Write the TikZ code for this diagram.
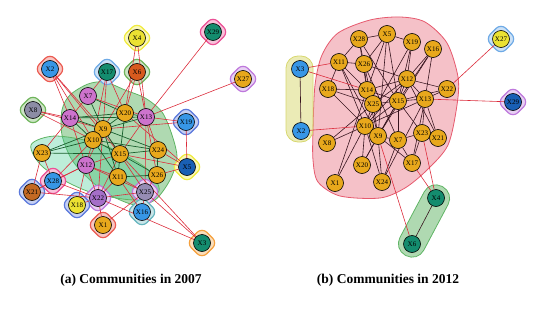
\documentclass[tikz,border=0pt]{standalone}
\usepackage{fontspec}
\setmainfont{Liberation Serif}
\usepackage{tikz}
\usepackage{xcolor}
\usetikzlibrary{positioning}
\definecolor{vorange}{RGB}{232,168,28}
\definecolor{vviolet}{RGB}{205,115,205}
\definecolor{vpurple}{RGB}{165,110,200}
\definecolor{vblue}{RGB}{55,150,230}
\definecolor{vdblue}{RGB}{25,95,180}
\definecolor{vteal}{RGB}{20,140,110}
\definecolor{vrust}{RGB}{215,90,30}
\definecolor{vbrown}{RGB}{195,105,35}
\definecolor{vgray}{RGB}{140,140,165}
\definecolor{vmauve}{RGB}{150,140,180}
\definecolor{vyellow}{RGB}{235,225,50}
\definecolor{hyellow}{RGB}{240,235,60}
\definecolor{hpink}{RGB}{235,80,150}
\definecolor{hviolet}{RGB}{190,120,220}
\definecolor{hred}{RGB}{235,90,80}
\definecolor{hsky}{RGB}{110,170,230}
\definecolor{hgreen}{RGB}{110,180,90}
\definecolor{hblue}{RGB}{90,120,220}
\definecolor{horange}{RGB}{245,160,60}
\definecolor{hteal}{RGB}{100,180,190}
\definecolor{linkred}{RGB}{220,45,60}
\definecolor{linkgreen}{RGB}{25,95,45}
\definecolor{linkdark}{RGB}{55,20,30}
\definecolor{commgreen}{RGB}{95,180,100}
\definecolor{commred}{RGB}{230,90,110}
\definecolor{commyellow}{RGB}{215,215,110}
\pgfdeclarelayer{blobs}
\pgfdeclarelayer{halos}
\pgfdeclarelayer{links}
\pgfsetlayers{blobs,halos,links,main}

\begin{document}
\begin{tikzpicture}[x=1pt, y=-1pt,
    vx/.style={circle, draw=black, line width=0.6pt, minimum size=17pt, inner sep=0pt,
      font=\fontsize{7}{8}\selectfont},
    halo/.style={draw=#1, line width=1.2pt, fill=#1!35, rounded corners=7pt,
      minimum size=22pt, rotate=45},
    redlink/.style={linkred, line width=0.6pt},
    greenlink/.style={linkgreen, line width=0.7pt},
    darklink/.style={linkdark, line width=0.6pt},
    caption/.style={font=\bfseries\fontsize{13.5}{15}\selectfont}]
    \useasboundingbox (0,0) rectangle (545,313);

    % (a) 2007
    \foreach \n/\x/\y/\c in {4/137/38/vyellow, 29/213/32/vteal, 27/243/79/vorange,
        2/50/69/vblue, 17/107/72/vteal, 6/137/72/vrust, 7/88/96/vviolet,
        8/33/110/vgray, 14/70/118/vviolet, 20/125/113/vorange, 13/146/117/vviolet,
        9/103/129/vorange, 10/93/140/vorange, 19/186/122/vblue, 23/42/153/vorange,
        15/120/154/vorange, 24/158/150/vorange, 12/86/165/vviolet, 11/118/177/vorange,
        26/157/175/vorange, 5/187/167/vdblue, 28/53/181/vblue, 21/32/192/vbrown,
        22/98/198/vpurple, 25/145/192/vmauve, 18/77/205/vyellow, 16/142/212/vblue,
        1/103/225/vorange, 3/202/243/vteal}
      \node[vx, fill=\c] (a\n) at (\x,\y) {X\n};

    \begin{pgfonlayer}{halos}
      \foreach \n/\c in {4/hyellow, 29/hpink, 27/hviolet, 2/hred, 17/hsky, 6/hgreen,
          8/hgreen, 19/hblue, 5/hyellow, 28/hpink, 21/hblue, 22/hviolet, 25/hviolet,
          18/hblue, 16/hteal, 1/hred, 3/horange}
        \node[halo=\c] (ha\n) at (a\n) {};
    \end{pgfonlayer}

    \begin{pgfonlayer}{blobs}
      \draw[commgreen, line width=0.8pt, fill=commgreen, fill opacity=0.5]
        plot[smooth cycle] coordinates {(62,110) (70,95) (88,84) (105,82) (125,90)
          (145,98) (162,112) (172,135) (177,158) (170,180) (155,200) (135,205)
          (110,195) (90,180) (72,160) (62,135)};
      \draw[commgreen, line width=0.8pt, fill=commgreen!70!cyan, fill opacity=0.35]
        plot[smooth cycle] coordinates {(159,191) (134,200) (87,191) (44,168)
          (31,145) (56,136) (103,145) (146,168)};
    \end{pgfonlayer}

    \begin{pgfonlayer}{links}
      \foreach \s/\t in {4/20, 4/13, 6/13, 6/9, 6/20, 29/13, 27/13, 2/14, 2/9, 2/10,
          2/15, 17/7, 17/9, 17/10, 17/20, 8/14, 8/9, 8/10, 19/13, 19/5, 19/9, 5/24,
          5/26, 5/15, 5/20, 3/25, 3/22, 3/15, 1/22, 1/25, 16/25, 16/11, 18/22, 18/12,
          21/28, 21/22, 21/12, 28/12, 28/10, 28/22, 22/25, 22/11, 22/12, 22/9, 25/26,
          25/11, 25/12, 25/13, 23/21, 23/28, 12/10, 12/9, 12/15, 12/11, 7/14, 7/13,
          14/12, 14/23, 13/15, 13/24, 13/26, 22/15, 25/9}
        \draw[redlink] (a\s) -- (a\t);
      \foreach \s/\t in {9/10, 9/20, 9/15, 9/24, 9/14, 10/15, 10/14, 14/20, 14/13,
          7/9, 7/20, 20/13, 15/24, 15/11, 15/26, 11/26, 24/26, 10/11, 10/24, 9/13,
          23/15, 23/9, 23/10, 20/15, 9/11}
        \draw[greenlink] (a\s) -- (a\t);
    \end{pgfonlayer}

    \node[caption] (capa) at (131,280) {(a) Communities in 2007};

    % (b) 2012
    \foreach \n/\x/\y/\c in {3/300/69/vblue, 2/301/131/vblue, 28/359/39/vorange,
        5/387/34/vorange, 19/412/42/vorange, 16/433/49/vorange, 11/339/62/vorange,
        26/364/64/vorange, 18/328/89/vorange, 14/367/90/vorange, 12/407/79/vorange,
        22/447/89/vorange, 25/373/104/vorange, 15/398/101/vorange, 13/425/99/vorange,
        10/365/126/vorange, 9/378/136/vorange, 7/398/140/vorange, 8/327/143/vorange,
        23/422/133/vorange, 21/438/138/vorange, 20/362/165/vorange, 17/412/163/vorange,
        1/335/183/vorange, 24/382/182/vorange, 27/501/39/vyellow, 29/513/102/vdblue,
        4/436/198/vteal, 6/412/244/vteal}
      \node[vx, fill=\c] (b\n) at (\x,\y) {X\n};

    \begin{pgfonlayer}{halos}
      \node[halo=hsky] (hb27) at (b27) {};
      \node[halo=hviolet] (hb29) at (b29) {};
    \end{pgfonlayer}

    \begin{pgfonlayer}{blobs}
      \draw[commred, line width=0.8pt, fill=commred!75!white, fill opacity=0.5]
        plot[smooth cycle] coordinates {(313,130) (315,85) (322,55) (338,33)
          (370,20) (400,17) (425,22) (447,43) (458,77) (457,105) (448,145)
          (427,170) (405,188) (380,198) (340,196) (318,182) (313,160)};
      \node[draw=commyellow, line width=0.8pt, fill=commyellow, fill opacity=0.5,
        rounded corners=12pt, minimum width=27pt, minimum height=86pt]
        (commb) at (299.5,99) {};
      \node[draw=commgreen, line width=0.8pt, fill=commgreen, fill opacity=0.5,
        rounded corners=13pt, minimum width=78pt, minimum height=27pt, rotate=62]
        (commc) at (424,221) {};
    \end{pgfonlayer}

    \begin{pgfonlayer}{links}
      \foreach \s/\t in {28/5, 28/11, 28/26, 28/14, 28/15, 5/19, 5/26, 5/14, 5/15,
          5/9, 19/12, 19/15, 19/10, 16/12, 16/13, 16/15, 16/9, 11/26, 11/18, 11/14,
          11/10, 11/9, 26/14, 26/12, 26/25, 26/7, 18/14, 18/25, 18/10, 14/25, 14/15,
          14/12, 14/9, 12/15, 12/13, 12/22, 12/10, 12/25, 22/13, 22/15, 13/15, 13/21,
          13/23, 13/10, 13/17, 25/15, 25/10, 25/9, 15/10, 15/9, 15/7, 15/23, 10/9,
          10/8, 10/20, 10/1, 9/7, 9/20, 9/24, 9/17, 7/23, 7/24, 7/17, 23/21, 23/17,
          8/25, 1/14, 20/15, 24/13, 24/10, 21/12, 3/2, 4/6}
        \draw[darklink] (b\s) -- (b\t);
      \foreach \s/\t in {3/11, 3/14, 2/10, 27/22, 29/13, 4/17, 4/23, 6/9}
        \draw[redlink] (b\s) -- (b\t);
    \end{pgfonlayer}

    \node[caption] (capb) at (388,280) {(b) Communities in 2012};
\end{tikzpicture}
\end{document}
